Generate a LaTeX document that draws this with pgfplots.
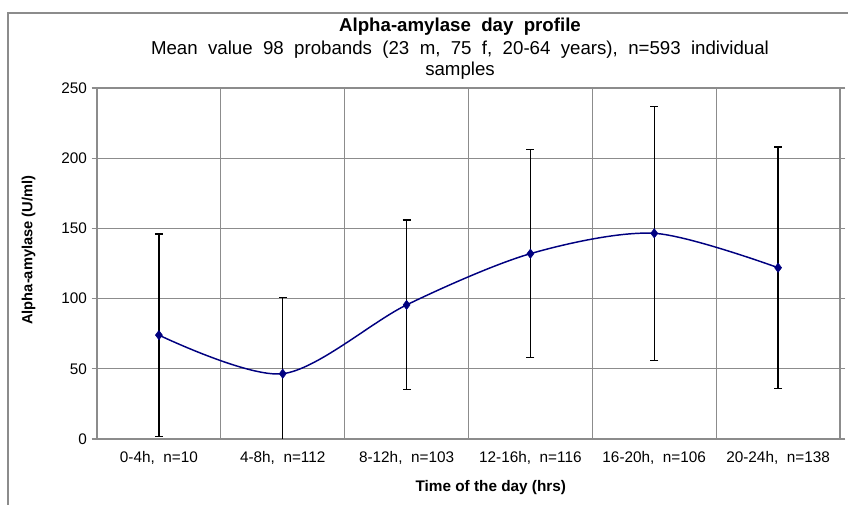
\documentclass[border=0pt]{standalone}
\usepackage{fontspec}
\setmainfont{Liberation Sans}
\usepackage{pgfplots}
\pgfplotsset{compat=1.18}
\definecolor{navyline}{HTML}{000080}
\definecolor{gridgray}{HTML}{8C8C8C}
\begin{document}
\begin{tikzpicture}[x=1pt,y=1pt]
  % page size: 848 x 505 px at 0.75 pt/px
  \useasboundingbox (0,0) rectangle (636,378.75);
  \draw[gridgray, line width=1pt] (6,0) |- (636,369);
  \node[font=\bfseries\fontsize{14}{16}\selectfont] at (345,358.5) {Alpha-amylase\ \ day\ \ profile};
  \node[font=\fontsize{14}{16}\selectfont] at (345,341.25) {Mean\ \ value\ \ 98\ \ probands\ \ (23\ \ m,\ \ 75\ \ f,\ \ 20-64\ \ years),\ \ n=593\ \ individual};
  \node[font=\fontsize{14}{16}\selectfont] at (345,325.5) {samples};
  \begin{axis}[
      at={(72.75pt,49.5pt)}, anchor=south west,
      scale only axis,
      width=557.25pt, height=263.25pt,
      xmin=0.5, xmax=6.5,
      ymin=0, ymax=250,
      xtick={1,...,6},
      xticklabels={{0-4h,\ \ n=10}, {4-8h,\ \ n=112}, {8-12h,\ \ n=103}, {12-16h,\ \ n=116}, {16-20h,\ \ n=106}, {20-24h,\ \ n=138}},
      minor xtick={0.5,1.5,...,6.5},
      ytick={0,50,...,250},
      xmajorgrids=false, ymajorgrids=true, xminorgrids=true,
      grid style={gridgray, line width=0.6pt},
      minor grid style={gridgray, line width=0.6pt},
      axis line style={gridgray, line width=1pt},
      tick align=outside,
      x tick style={draw=none},
      minor x tick style={gridgray, line width=0.8pt},
      y tick style={gridgray, line width=0.8pt},
      major tick length=4pt, minor tick length=4pt,
      tick label style={font=\fontsize{11.5}{13}\selectfont},
      xticklabel style={yshift=-2pt},
      /pgf/number format/assume math mode=true,
      xlabel={Time of the day (hrs)},
      ylabel={Alpha-amylase (U/ml)},
      every axis x label/.style={at={(axis description cs:0.53,-0.137)}, anchor=center,
        font=\bfseries\fontsize{11.5}{13}\selectfont},
      every axis y label/.style={at={(axis description cs:-0.092,0.538)}, rotate=90, anchor=center,
        font=\bfseries\fontsize{11}{13}\selectfont},
    ]
    \addplot[navyline, line width=1.1pt, smooth, tension=0.5,
      mark=diamond*, mark size=3.5pt, mark options={fill=navyline, draw=navyline, line width=0.4pt},
      error bars/.cd, y dir=both, y explicit,
      error bar style={black, line width=0.9pt},
      error mark options={black, rotate=90, mark size=3pt, line width=0.9pt}]
      table[x=x, y=y, y error plus=ep, y error minus=em] {
        x y     ep    em
        1 74    72    72
        2 46.5  54.5  54.5
        3 95.5  60.5  60.5
        4 132   74    74
        5 146.5 90.5  90.5
        6 122   86    86
      };
  \end{axis}
\end{tikzpicture}
\end{document}
